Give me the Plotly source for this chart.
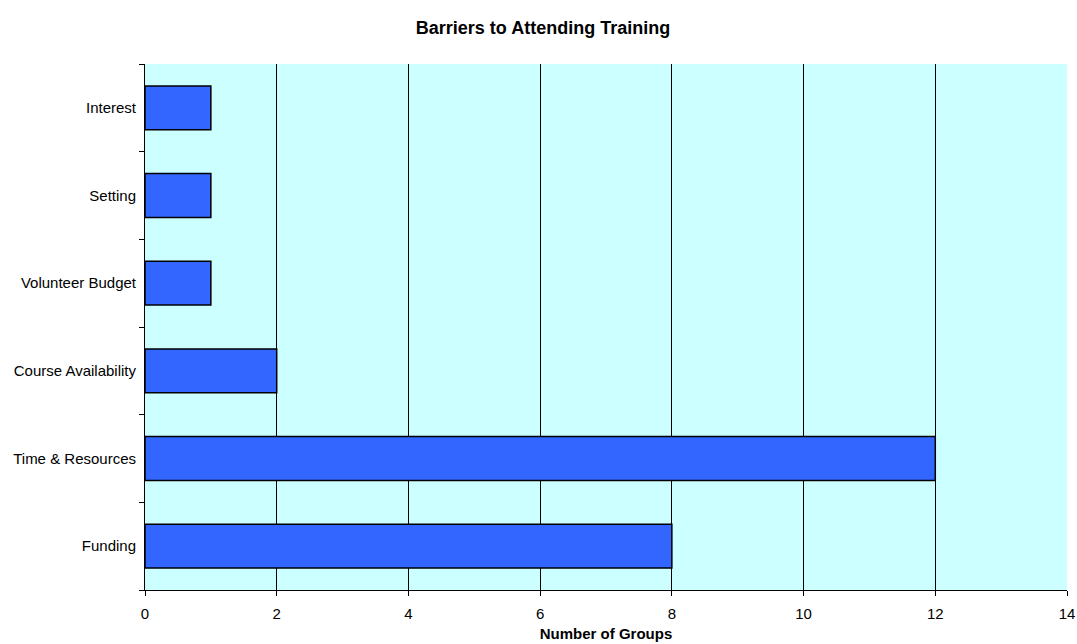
import plotly.graph_objects as go

categories = ["Funding", "Time & Resources", "Course Availability", "Volunteer Budget", "Setting", "Interest"]
values = [8, 12, 2, 1, 1, 1]
x_ticks = [0, 2, 4, 6, 8, 10, 12, 14]

fig = go.Figure(go.Bar(
    x=values, y=categories, orientation="h",
    marker=dict(color="#3366FF", line=dict(color="black", width=1.5)),
    width=0.5,
))

font = "Liberation Sans, Arial, sans-serif"
fig.update_layout(
    width=1077, height=644,
    margin=dict(l=145, r=10, t=64, b=54),
    paper_bgcolor="white", plot_bgcolor="#CCFFFF",
    title=dict(text="<b>Barriers to Attending Training</b>", x=543/1077, xanchor="center",
               y=1 - 28/644, yanchor="middle", font=dict(family=font, size=18, color="black")),
    font=dict(family=font, size=15, color="black"),
    showlegend=False,
    bargap=0.5,
)
fig.update_xaxes(
    range=[0, 14], tickvals=x_ticks, ticks="outside", ticklen=5, tickcolor="black",
    showgrid=True, gridcolor="black", gridwidth=1,
    showline=True, linecolor="black", linewidth=1, zeroline=False,
    automargin=False, ticklabelstandoff=5,
    title=dict(text="<b>Number of Groups</b>", font=dict(family=font, size=15), standoff=7),
    tickfont=dict(family=font, size=15),
)
fig.update_yaxes(
    categoryorder="array", categoryarray=categories,
    ticks="outside", tickson="boundaries", ticklen=5, tickcolor="black",
    showgrid=False, showline=True, linecolor="black", linewidth=1,
    automargin=False, ticklabelstandoff=5,
    tickfont=dict(family=font, size=15),
)
fig.write_html("out.html")
